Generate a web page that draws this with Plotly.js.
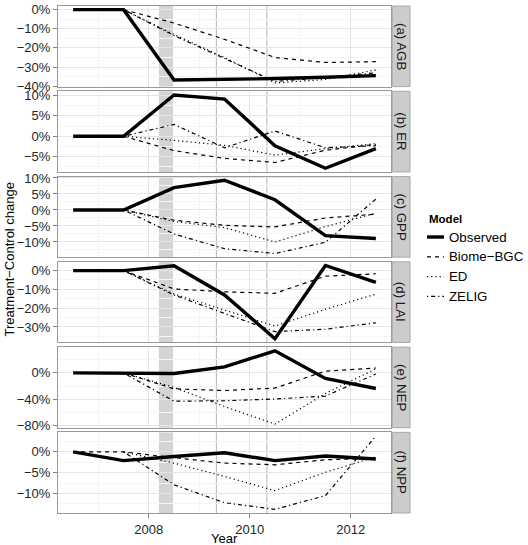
<!DOCTYPE html>
<html>
<head>
<meta charset="utf-8">
<script src="https://cdn.plot.ly/plotly-3.0.1.min.js"></script>
<style>
  html, body { margin: 0; padding: 0; background: #ffffff; }
  #chart { width: 528px; height: 545px; }
</style>
</head>
<body>
<div id="chart"></div>
<script>
// Treatment minus control change, per year, for observations and three models
const years = [2006.5, 2007.5, 2008.5, 2009.5, 2010.5, 2011.5, 2012.5];
const panelLabels = ['(a) AGB', '(b) ER', '(c) GPP', '(d) LAI', '(e) NEP', '(f) NPP'];
const seriesNames = ['Observed', 'Biome\u2212BGC', 'ED', 'ZELIG'];

const agbObserved = [0, 0, -36.8, -36.5, -36.0, -35.3, -34.5];
const agbBiomeBGC = [null, 0, -7.0, -15.5, -25.0, -27.6, -27.2];
const agbED       = [null, 0, -13.0, -25.0, -38.3, -36.5, -31.5];
const agbZELIG    = [null, 0, -13.5, -25.5, -37.5, -35.5, -33.0];

const erObserved = [0, 0, 10.1, 9.1, -2.3, -7.8, -3.0];
const erBiomeBGC = [null, 0, -3.5, -5.4, -6.4, -3.4, -2.0];
const erED       = [null, 0, -1.0, -2.2, -4.6, -3.0, -1.8];
const erZELIG    = [null, 0, 2.9, -2.8, 1.3, -2.8, -2.3];

const gppObserved = [0, 0, 7.0, 9.3, 3.2, -8.0, -8.9];
const gppBiomeBGC = [null, 0, -3.2, -4.8, -5.3, -2.5, -1.3];
const gppED       = [null, 0, -3.6, -5.5, -10.0, -5.2, -1.0];
const gppZELIG    = [null, 0, -7.5, -12.1, -13.6, -10.1, 3.4];

const laiObserved = [0, 0, 2.6, -13.0, -36.3, 2.7, -6.3];
const laiBiomeBGC = [null, 0, -9.8, -11.3, -12.1, -3.0, -1.7];
const laiED       = [null, 0, -12.5, -21.0, -29.5, -20.6, -12.5];
const laiZELIG    = [null, 0, -13.0, -22.8, -32.5, -31.2, -27.8];

const nepObserved = [0, 0, -0.8, 9.2, 33.5, -8.3, -23.6];
const nepBiomeBGC = [null, 0, -24.2, -26.7, -23.0, 2.7, 7.4];
const nepED       = [null, 0, -22.0, -51.0, -77.5, -31.2, 6.2];
const nepZELIG    = [null, 0, -42.9, -42.2, -39.6, -35.1, -1.7];

const nppObserved = [0, -2.1, -1.1, -0.2, -2.1, -1.0, -1.7];
const nppBiomeBGC = [0, 0, -1.4, -2.7, -3.1, -1.9, -1.5];
const nppED       = [null, 0, -2.7, -5.9, -9.3, -4.9, -1.2];
const nppZELIG    = [null, 0, -7.9, -12.2, -13.8, -10.5, 3.8];

const panelTickStep = [10, 5, 5, 10, 40, 5];
const xTicks = [2008, 2010, 2012];
const shadeSpan = [2008.2, 2008.48];
const eventYears = [2009.34, 2010.34];

const panelSeries = [
  [agbObserved, agbBiomeBGC, agbED, agbZELIG],
  [erObserved, erBiomeBGC, erED, erZELIG],
  [gppObserved, gppBiomeBGC, gppED, gppZELIG],
  [laiObserved, laiBiomeBGC, laiED, laiZELIG],
  [nepObserved, nepBiomeBGC, nepED, nepZELIG],
  [nppObserved, nppBiomeBGC, nppED, nppZELIG]
];

// ---- styling ----
const FONT = '"Liberation Sans", Arial, Helvetica, sans-serif';
const TEXT = '#262626';
const lineStyles = [
  { color: '#000000', width: 3.4, dash: 'solid' },
  { color: '#000000', width: 1.2, dash: '4px,4px' },
  { color: '#000000', width: 1.2, dash: '1.2px,3px' },
  { color: '#000000', width: 1.2, dash: '1.2px,3px,4px,3px' }
];

const W = 528, H = 545;
const M = { l: 58, r: 137, t: 6, b: 32 };
const plotW = W - M.l - M.r, plotH = H - M.t - M.b;
const px = v => (v - M.l) / plotW;          // pixel x -> paper
const py = v => (H - M.b - v) / plotH;      // pixel y -> paper

const panelH = 80.6;
const gap = (plotH - 6 * panelH) / 5;

const xMin = Math.min(...years), xMax = Math.max(...years);
const xPad = 0.05 * (xMax - xMin);
const xRange = [xMin - xPad, xMax + xPad];

const traces = [];
const shapes = [];
const annotations = [];
const layout = {
  width: W, height: H,
  margin: M,
  paper_bgcolor: '#ffffff',
  plot_bgcolor: '#ffffff',
  showlegend: false,
  font: { family: FONT, size: 13, color: TEXT }
};

panelSeries.forEach((series, i) => {
  const n = i + 1;
  const xs = n === 1 ? 'x' : 'x' + n;
  const ys = n === 1 ? 'y' : 'y' + n;
  const top = M.t + i * (panelH + gap);
  const bottom = top + panelH;

  // y range with 5% padding around the panel's values
  const vals = series.flat().filter(v => v !== null);
  const lo = Math.min(...vals), hi = Math.max(...vals);
  const pad = 0.05 * (hi - lo);

  series.forEach((vals, k) => {
    traces.push({
      type: 'scatter', mode: 'lines',
      x: years, y: vals, name: seriesNames[k],
      xaxis: xs, yaxis: ys,
      connectgaps: false,
      line: lineStyles[k],
      hoverinfo: 'skip'
    });
  });

  const isBottom = i === panelSeries.length - 1;
  layout[n === 1 ? 'xaxis' : 'xaxis' + n] = {
    anchor: ys, domain: [0, 1], range: xRange,
    tickmode: 'array', tickvals: xTicks, ticktext: xTicks.map(String),
    showticklabels: isBottom,
    ticks: isBottom ? 'outside' : '', ticklen: 4, tickcolor: '#808080', tickwidth: 1,
    showgrid: true, gridcolor: '#E5E5E5', gridwidth: 1,
    minor: { dtick: 1, tick0: 2007, showgrid: true, gridcolor: '#F5F5F5', gridwidth: 1, ticks: '' },
    showline: true, mirror: true, linecolor: '#999999', linewidth: 1,
    zeroline: false,
    tickfont: { family: FONT, size: 13, color: TEXT }
  };
  layout[n === 1 ? 'yaxis' : 'yaxis' + n] = {
    anchor: xs, domain: [py(bottom), py(top)],
    range: [lo - pad, hi + pad],
    dtick: panelTickStep[i], tick0: 0, ticksuffix: '%',
    ticks: 'outside', ticklen: 4, tickcolor: '#808080', tickwidth: 1,
    showgrid: true, gridcolor: '#E5E5E5', gridwidth: 1,
    minor: { dtick: panelTickStep[i] / 2, tick0: 0, showgrid: true, gridcolor: '#F5F5F5', gridwidth: 1, ticks: '' },
    showline: true, mirror: true, linecolor: '#999999', linewidth: 1,
    zeroline: false,
    tickfont: { family: FONT, size: 13, color: TEXT }
  };

  // treatment period shading and event markers
  shapes.push({
    type: 'rect', xref: xs, yref: ys + ' domain',
    x0: shadeSpan[0], x1: shadeSpan[1], y0: 0, y1: 1,
    fillcolor: '#D4D4D4', line: { width: 0 }, layer: 'below'
  });
  eventYears.forEach(yr => shapes.push({
    type: 'line', xref: xs, yref: ys + ' domain',
    x0: yr, x1: yr, y0: 0, y1: 1,
    line: { color: '#BDBDBD', width: 1.1 }, layer: 'below'
  }));

  // facet strip on the right
  shapes.push({
    type: 'rect', xref: 'paper', yref: 'paper',
    x0: px(392.3), x1: px(410), y0: py(bottom), y1: py(top),
    fillcolor: '#CCCCCC', line: { color: '#A8A8A8', width: 1 }
  });
  annotations.push({
    xref: 'paper', yref: 'paper', x: px(401.3), y: py((top + bottom) / 2),
    text: panelLabels[i], textangle: 90, showarrow: false,
    xanchor: 'center', yanchor: 'middle',
    font: { family: FONT, size: 13.3, color: '#1a1a1a' }
  });
});

// axis titles
annotations.push({
  xref: 'paper', yref: 'paper', x: px(9), y: py((M.t + H - M.b) / 2),
  text: 'Treatment\u2212Control change', textangle: -90, showarrow: false,
  xanchor: 'center', yanchor: 'middle',
  font: { family: FONT, size: 13, color: '#000' }
});
annotations.push({
  xref: 'paper', yref: 'paper', x: 0.5, y: py(538),
  text: 'Year', showarrow: false, xanchor: 'center', yanchor: 'middle',
  font: { family: FONT, size: 13, color: '#000' }
});

// legend
annotations.push({
  xref: 'paper', yref: 'paper', x: px(426.5), y: py(218.5),
  text: '<b>Model</b>', showarrow: false, xanchor: 'left', yanchor: 'middle',
  font: { family: FONT, size: 11.5, color: '#000' }
});
seriesNames.forEach((name, k) => {
  const yk = 237 + k * 19.8;
  shapes.push({
    type: 'line', xref: 'paper', yref: 'paper',
    x0: px(427), x1: px(444), y0: py(yk), y1: py(yk),
    line: { color: lineStyles[k].color, width: lineStyles[k].width, dash: lineStyles[k].dash }
  });
  annotations.push({
    xref: 'paper', yref: 'paper', x: px(447.5), y: py(yk),
    text: name, showarrow: false, xanchor: 'left', yanchor: 'middle',
    font: { family: FONT, size: 13.3, color: '#000' }
  });
});

layout.shapes = shapes;
layout.annotations = annotations;

Plotly.newPlot('chart', traces, layout, { staticPlot: true, displayModeBar: false });
</script>
</body>
</html>
